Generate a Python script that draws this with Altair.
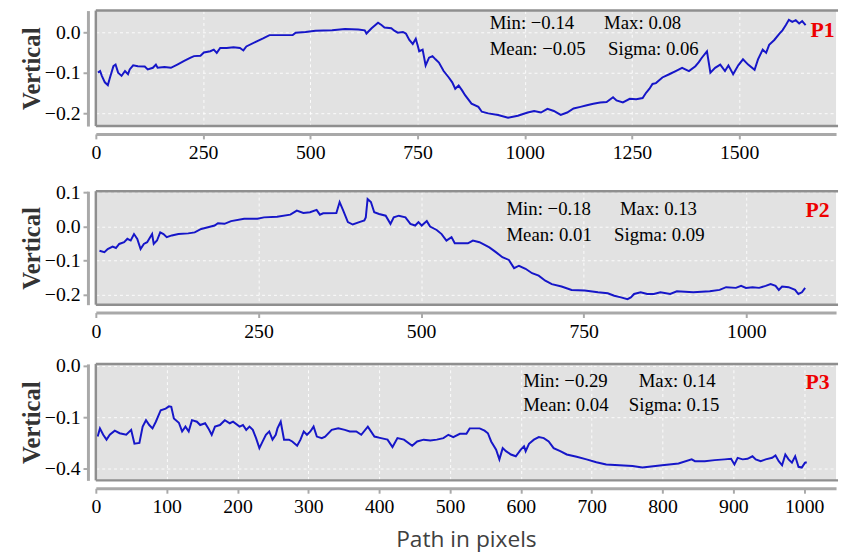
import altair as alt
import pandas as pd

# ---------------- data ----------------
p1_x = [5, 10, 14, 21, 28, 33, 41, 46, 52, 60, 68, 75, 79, 87, 98, 114, 121, 133, 140, 144,
        160, 175, 190, 206, 221, 229, 244, 252, 267, 275, 282, 290, 305, 321, 336, 344, 351, 374, 390, 405,
        428, 459, 466, 489, 512, 551, 581, 612, 627, 631, 643, 658, 666, 673, 689, 696, 704, 716, 723, 731,
        739, 746, 750, 754, 762, 769, 777, 785, 792, 800, 811, 823, 831, 838, 846, 854, 861,
        876, 892, 900, 915, 938, 961, 984, 1007, 1022, 1038, 1053, 1068, 1084, 1099, 1114, 1130, 1145, 1160, 1176, 1191,
        1206, 1214, 1229, 1245, 1260, 1275, 1283, 1291, 1298, 1306, 1321, 1337, 1352, 1367, 1383, 1398, 1406, 1413, 1425, 1433,
        1444, 1456, 1467, 1475, 1486, 1498, 1509, 1521, 1536, 1544, 1555, 1563, 1570, 1582, 1594, 1601, 1609, 1616, 1624, 1632,
        1640, 1647, 1655]
p1_y = [-0.099, -0.095, -0.107, -0.123, -0.130, -0.111, -0.083, -0.079, -0.099, -0.107,
        -0.095, -0.103, -0.091, -0.081, -0.083, -0.084, -0.091, -0.087, -0.079, -0.087,
        -0.085, -0.087, -0.079, -0.070, -0.062, -0.058, -0.057, -0.049, -0.046, -0.042,
        -0.050, -0.038, -0.038, -0.036, -0.038, -0.044, -0.034, -0.022, -0.014, -0.006,
        -0.006, -0.006, 0.000, 0.002, 0.005, 0.006, 0.009, 0.008, 0.006, -0.002,
        0.011, 0.025, 0.019, 0.013, 0.011, 0.005, 0.000, 0.002, -0.002, -0.018,
        -0.028, -0.015, -0.030, -0.046, -0.042, -0.081, -0.062, -0.058, -0.066, -0.074,
        -0.095, -0.111, -0.123, -0.139, -0.131, -0.143, -0.155,
        -0.176, -0.184, -0.196, -0.200, -0.204, -0.211, -0.206, -0.198, -0.194, -0.198,
        -0.189, -0.194, -0.204, -0.198, -0.188, -0.184, -0.180, -0.176, -0.173, -0.172,
        -0.160, -0.168, -0.173, -0.164, -0.165, -0.162, -0.149, -0.139, -0.127, -0.125,
        -0.111, -0.103, -0.095, -0.087, -0.095, -0.083, -0.073, -0.062, -0.046, -0.099,
        -0.087, -0.079, -0.095, -0.081, -0.103, -0.081, -0.066, -0.079, -0.092, -0.066,
        -0.042, -0.050, -0.030, -0.018, -0.002, 0.006, 0.019, 0.032, 0.027, 0.031,
        0.023, 0.029, 0.019]

p2_x = [5.6, 13.2, 18.2, 25.8, 30.9, 35.9, 43.5, 48.5, 53.6, 58.7,
        63.7, 68.8, 73.8, 78.9, 86.5, 89, 94, 99, 104, 109,
        116.8, 127, 142, 152, 162, 172.5, 182.6, 187.7, 197.8, 207.9,
        228, 248.4, 258.5, 278.7, 299, 309, 319, 329.3, 339.4, 344.5,
        349.5, 369.8, 374.8, 379.9, 387.5, 395, 405, 412.8, 415, 417.8,
        422.9, 428, 435.5, 445.6, 453, 458, 465.9, 476, 483.6, 491,
        496, 501, 508.8, 513.9, 524, 531.6, 539, 546.8, 551.8, 572,
        579.7, 589.8, 605, 615, 625, 635, 643, 650.5, 660.6, 670.7,
        680.8, 691, 701, 716, 731.4, 751.6, 771.9, 787, 797, 807.3,
        817.4, 822.5, 827.5, 837.6, 847.7, 857.9, 868, 883, 893.3, 918.6,
        943.9, 959, 969, 984, 992, 999.5, 1009.6, 1019.7, 1029.8, 1037.4,
        1045, 1050, 1055, 1065, 1075, 1080, 1085.5, 1090.5]
p2_y = [-0.072, -0.076, -0.067, -0.060, -0.064, -0.052, -0.047, -0.037, -0.042, -0.023,
        -0.037, -0.067, -0.052, -0.047, -0.023, -0.052, -0.042, -0.018, -0.023, -0.032,
        -0.027, -0.023, -0.021, -0.018, -0.008, -0.003, 0.002, 0.009, 0.007, 0.015,
        0.022, 0.022, 0.026, 0.028, 0.034, 0.046, 0.039, 0.041, 0.048, 0.034,
        0.038, 0.039, 0.071, 0.048, 0.012, 0.005, 0.012, 0.017, 0.026, 0.080,
        0.071, 0.041, 0.036, 0.031, 0.007, 0.026, 0.031, 0.026, 0.007, 0.002,
        0.012, 0.002, 0.015, -0.001, -0.011, -0.023, -0.042, -0.032, -0.050, -0.050,
        -0.042, -0.047, -0.062, -0.076, -0.091, -0.099, -0.123, -0.116, -0.125, -0.138,
        -0.145, -0.160, -0.170, -0.177, -0.187, -0.189, -0.194, -0.197, -0.204, -0.209,
        -0.214, -0.209, -0.199, -0.194, -0.199, -0.199, -0.194, -0.199, -0.191, -0.194,
        -0.191, -0.187, -0.179, -0.181, -0.175, -0.181, -0.179, -0.181, -0.175, -0.170,
        -0.175, -0.187, -0.177, -0.179, -0.187, -0.199, -0.194, -0.181]

p3_x = [2.6, 5.8, 10.4, 15.1, 19.7, 26.7, 33.6, 42.9, 49.9, 54.5,
        61.5, 66.1, 70.8, 75.4, 80, 84.7, 91.6, 98.6, 103.2, 106.5,
        110.2, 117.2, 121.8, 126.5, 131.1, 135.7, 142.7, 147.3, 154.3, 158.9,
        163.6, 168.2, 175.2, 182.1, 189.1, 193.7, 203, 207.7, 212.3, 216.9,
        221.6, 226.2, 230.9, 235.5, 240.1, 244.8, 249.4, 254, 256.4, 261,
        265.7, 272.6, 277.3, 284.2, 288.9, 293.5, 298.1, 302.8, 307.4, 312,
        319, 323.7, 333, 342.2, 351.5, 358.5, 367.7, 374.7, 384, 393.3,
        402.6, 411.8, 418.8, 425.8, 435, 446.6, 453.6, 462.9, 472.2, 481.4,
        490.7, 497.7, 504.6, 513.9, 523.2, 527.8,
        530.3, 541.9, 548.8, 553.5, 558.1, 565.1, 569.7, 574.4, 579, 586,
        592.9, 599.9, 604.5, 606.8, 611.5, 618.4, 625.4, 632.4, 639.3, 646.3,
        655.6, 664.8, 678.8, 692.7, 706.6, 720.5, 739, 757.6, 771.6, 780.8,
        799.4, 822.6, 841.2, 845.8, 859.7, 873.6, 887.6, 896.8, 901.5, 906.1,
        913.1, 920, 927, 931.6, 938.6, 945.6, 954.8, 959.5, 964.1, 968.8,
        973.4, 978, 982.7, 987.3, 992, 996.6, 1001.2, 1003.6]
p3_y = [-0.276, -0.244, -0.269, -0.288, -0.269, -0.253, -0.263, -0.269, -0.250, -0.304,
        -0.301, -0.237, -0.212, -0.231, -0.244, -0.218, -0.173, -0.167, -0.158, -0.160,
        -0.205, -0.222, -0.256, -0.237, -0.256, -0.212, -0.218, -0.231, -0.224, -0.244,
        -0.269, -0.237, -0.231, -0.212, -0.224, -0.218, -0.237, -0.231, -0.250, -0.237,
        -0.250, -0.282, -0.321, -0.295, -0.269, -0.256, -0.288, -0.269, -0.244, -0.218,
        -0.288, -0.288, -0.295, -0.312, -0.288, -0.256, -0.269, -0.256, -0.237, -0.276,
        -0.282, -0.276, -0.250, -0.244, -0.250, -0.256, -0.256, -0.269, -0.237, -0.276,
        -0.282, -0.288, -0.317, -0.282, -0.288, -0.312, -0.295, -0.288, -0.291, -0.288,
        -0.282, -0.269, -0.278, -0.265, -0.265, -0.244,
        -0.244, -0.244, -0.253, -0.263, -0.295, -0.327, -0.365, -0.321, -0.333, -0.346,
        -0.353, -0.327, -0.314, -0.333, -0.304, -0.288, -0.278, -0.282, -0.295, -0.321,
        -0.333, -0.346, -0.355, -0.365, -0.376, -0.385, -0.388, -0.391, -0.397, -0.394,
        -0.388, -0.381, -0.365, -0.372, -0.372, -0.368, -0.365, -0.363, -0.385, -0.359,
        -0.365, -0.363, -0.353, -0.365, -0.372, -0.365, -0.359, -0.350, -0.372, -0.388,
        -0.346, -0.365, -0.378, -0.353, -0.394, -0.397, -0.378, -0.376]

p1_xticks = [0, 250, 500, 750, 1000, 1250, 1500]
p2_xticks = [0, 250, 500, 750, 1000]
p3_xticks = [0, 100, 200, 300, 400, 500, 600, 700, 800, 900, 1000]
p1_yticks = [0.0, -0.1, -0.2]
p2_yticks = [0.1, 0.0, -0.1, -0.2]
p3_yticks = [0.0, -0.2, -0.4]

p1_stats = ["Min: −0.14", "Max: 0.08", "Mean: −0.05", "Sigma: 0.06"]
p2_stats = ["Min: −0.18", "Max: 0.13", "Mean: 0.01", "Sigma: 0.09"]
p3_stats = ["Min: −0.29", "Max: 0.14", "Mean: 0.04", "Sigma: 0.15"]
panel_names = ["P1", "P2", "P3"]

# ---------------- styling ----------------
W = 750
SERIF = "Liberation Serif"
BLUE = "#1616c8"
AXIS_GREY = "#a9a9a9"
BORDER = "#8f8f8f"
ONE = pd.DataFrame({"k": [0]})


def text_layer(s, px, py, size=19, color="black", weight="normal"):
    return alt.Chart(ONE).mark_text(
        align="left", baseline="middle", font=SERIF, fontSize=size,
        color=color, fontWeight=weight
    ).encode(x=alt.value(px), y=alt.value(py), text=alt.value(s))


def panel(xs, ys, xdom, ydom, xticks, yticks, h, stats, stat_pos, name, name_pos,
          xtitle=None, ylabel_expr=None):
    df = pd.DataFrame({"x": xs, "y": ys})
    xaxis_kw = dict(values=xticks, format="d", offset=8, labelFlush=False,
                    domainColor=AXIS_GREY, domainWidth=3, tickColor=AXIS_GREY,
                    tickWidth=2, tickSize=5, labelFont=SERIF, labelFontSize=20,
                    labelColor="black", labelPadding=4, grid=True,
                    gridColor="white", gridDash=[3, 3], gridWidth=1, gridOpacity=0.9)
    if xtitle:
        xaxis_kw.update(titleFont="Open Sans", titleFontSize=23,
                        titleFontWeight="normal", titleColor="#404040", titlePadding=12)
    yaxis_kw = dict(values=yticks, format=".1f", offset=8, domainColor=AXIS_GREY,
                    domainWidth=3, tickColor=AXIS_GREY, tickWidth=2, tickSize=5,
                    labelFont=SERIF, labelFontSize=20, labelColor="black",
                    labelPadding=3, grid=True, gridColor="white", gridDash=[3, 3],
                    gridWidth=1, gridOpacity=0.9, titleFont=SERIF,
                    titleFontSize=25, titleFontWeight="bold", titleColor="#333333",
                    titlePadding=0)
    if ylabel_expr:
        yaxis_kw["labelExpr"] = ylabel_expr
    xenc = alt.X("x:Q", scale=alt.Scale(domain=xdom, nice=False, zero=False),
                 axis=alt.Axis(**xaxis_kw), title=xtitle if xtitle else None)
    yenc = alt.Y("y:Q", scale=alt.Scale(domain=ydom, nice=False, zero=False),
                 axis=alt.Axis(**yaxis_kw), title="Vertical")
    line = alt.Chart(df).mark_line(color=BLUE, strokeWidth=2, clip=True).encode(x=xenc, y=yenc)
    top = alt.Chart(ONE).mark_rule(color=BORDER, strokeWidth=2.5).encode(
        x=alt.value(0), x2=alt.value(W + 2), y=alt.value(0))
    bottom = alt.Chart(ONE).mark_rule(color=BORDER, strokeWidth=2.5).encode(
        x=alt.value(0), x2=alt.value(W + 2), y=alt.value(h))
    left = alt.Chart(ONE).mark_rule(color=BORDER, strokeWidth=2.5).encode(
        x=alt.value(0), y=alt.value(0), y2=alt.value(h))
    texts = [text_layer(s, px, py) for s, (px, py) in zip(stats, stat_pos)]
    lab = text_layer(name, name_pos[0], name_pos[1], size=22, color="#ee0000", weight="bold")
    return alt.layer(line, top, bottom, left, *texts, lab).properties(width=W, height=h)


p1 = panel(p1_x, p1_y, [0, 1726], [-0.2315, 0.0549], p1_xticks, p1_yticks, 117,
           p1_stats, [(399, 12.5), (515, 12.5), (399, 38.5), (519, 38.5)], panel_names[0], (724, 20))
p2 = panel(p2_x, p2_y, [0, 1138], [-0.2304, 0.1029], p2_xticks, p2_yticks, 115,
           p2_stats, [(416, 18), (531, 18), (416, 44), (525, 44)], panel_names[1], (719, 19))
p3 = panel(p3_x, p3_y, [0, 1045], [-0.447, 0.0077], p3_xticks, p3_yticks, 118,
           p3_stats, [(433, 17.7), (550, 17.7), (433, 42), (540, 42)], panel_names[2], (719, 18.7),
           xtitle="Path in pixels",
           ylabel_expr="datum.value == -0.2 ? '\u22120.1' : format(datum.value, '.1f')")

inner = alt.vconcat(p1, p2, spacing=20)
chart = alt.vconcat(inner, p3, spacing=14).properties(
    padding={"left": 11, "top": -3, "right": 0, "bottom": 0}
).configure_view(fill="#e2e2e2", strokeWidth=0)

chart.save("out.html", embed_options={"renderer": "svg", "actions": False})
